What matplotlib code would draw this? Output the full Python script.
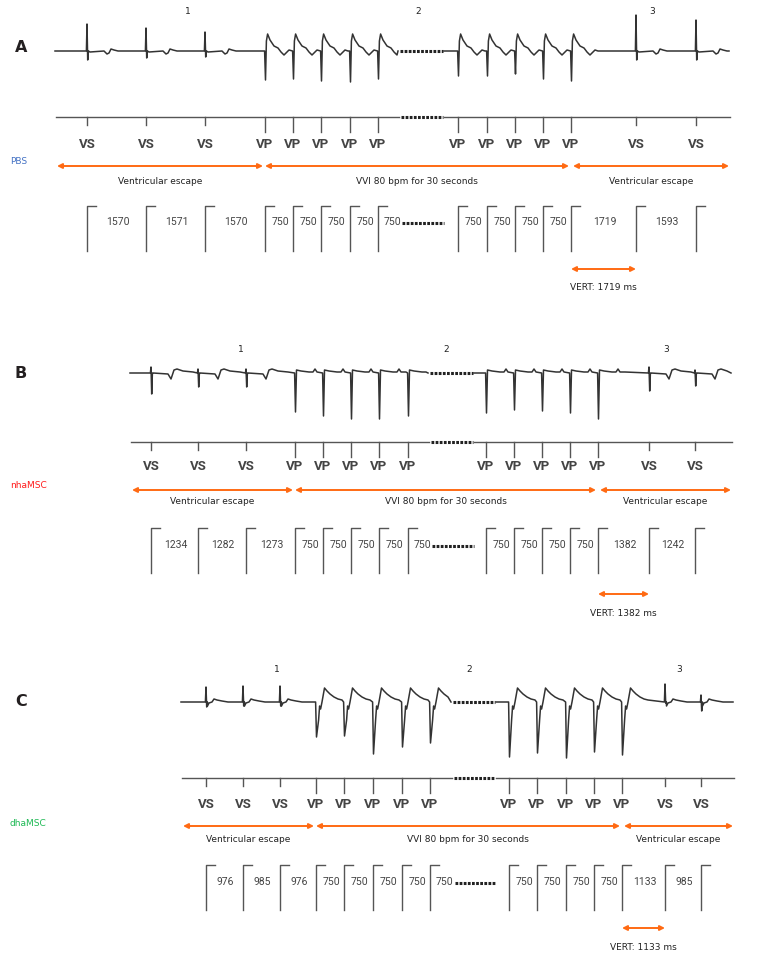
import matplotlib
matplotlib.use('Agg')
import matplotlib.pyplot as plt

# Beat positions along each strip (same scale as the reference strip), beat kinds,
# spike tips of the surface ECG and the marker-channel intervals (ms).
A_beats = [87, 146, 205, 265, 293, 321, 350, 378, 458, 487, 515, 543, 571, 636, 696]
A_kind = ['VS', 'VS', 'VS', 'VP', 'VP', 'VP', 'VP', 'VP', 'VP', 'VP', 'VP', 'VP', 'VP', 'VS', 'VS']
A_up = [24, 28, 32, None, None, None, None, None, None, None, None, None, None, 15, 20]
A_down = [60, 58, 57, 80, 79, 81, 82, 79, 76, 76, 74, 79, 81, 60, 60]
A_ms = [1570, 1571, 1570, 750, 750, 750, 750, 750, 750, 750, 750, 750, 1719, 1593]

B_beats = [151, 198, 246, 295, 323, 351, 379, 408, 486, 514, 542, 570, 598, 649, 695]
B_kind = A_kind
B_up = [367, 369, 369, None, None, None, None, None, None, None, None, None, None, 367, 370]
B_down = [394, 387, 387, 412, 416, 419, 419, 416, 413, 410, 411, 413, 419, 391, 386]
B_ms = [1234, 1282, 1273, 750, 750, 750, 750, 750, 750, 750, 750, 750, 1382, 1242]

C_beats = [206, 243, 280, 316, 344, 373, 402, 430, 509, 537, 566, 594, 622, 665, 701]
C_kind = A_kind
C_up = [687, 686, 686, None, None, None, None, None, None, None, None, None, None, 684, 695]
C_down = [707, 706, 706, 737, 736, 754, 747, 743, 757, 753, 758, 752, 755, 703, 711]
C_ms = [976, 985, 976, 750, 750, 750, 750, 750, 750, 750, 750, 750, 1133, 985]

groups = ['PBS', 'nhaMSC', 'dhaMSC']
phases = ['Ventricular escape', 'VVI 80 bpm for 30 seconds', 'Ventricular escape']

# wave shapes after each spike (dx, dy from baseline, + is downward on the page)
A_vs_wave = [(3, 1), (17, 0), (20, 3), (22, 2), (24, -2), (27, -1), (31, 0)]
A_vp_wave = [(1.4, -10), (2.6, -17), (5, -11), (9, -5), (13, -3), (16, 1), (19, 4), (21, 2), (24, -1), (27, 0)]
B_vs_wave = [(2, 0), (17, 1), (20, 6), (23, -3), (26, -4), (32, -2), (42, -1)]
B_vp_wave = [(1.5, -3), (6, -2), (14, -1), (18, -1), (20, -4), (22, -1), (27, -1)]
C_vs_wave = [(1.5, 4), (3, 1), (6, 0), (8, -3), (11, -2), (16, -1), (22, 0)]
C_vp_wave = [(2.6, 18), (3.6, 4), (4.6, 7), (6, 0), (8.5, -14), (11, -11), (14, -8), (18, -5), (22, -3), (26, -2)]

orange = '#ff6a13'
ink = '#333333'
grey = '#555555'
narrow = ['Liberation Sans Narrow', 'Roboto', 'DejaVu Sans']

panels = [
    dict(letter='A', beats=A_beats, kind=A_kind, up=A_up, down=A_down, ms=A_ms,
         vs_wave=A_vs_wave, vp_wave=A_vp_wave, gcol='#4472c4',
         letter_y=48, num_y=12, base=51, x0=55, x1=729, gap=(400, 443),
         mk_y=117, lab_y=145, grp_y=162, arr_y=166, txt_y=181,
         br_top=206, br_bot=251, ms_y=222, vert_y=269, vert_txt=288),
    dict(letter='B', beats=B_beats, kind=B_kind, up=B_up, down=B_down, ms=B_ms,
         vs_wave=B_vs_wave, vp_wave=B_vp_wave, gcol='#ff1a1a',
         letter_y=374, num_y=350, base=373, x0=130, x1=731, gap=(430, 473),
         mk_y=442, lab_y=467, grp_y=486, arr_y=490, txt_y=502,
         br_top=528, br_bot=573, ms_y=545, vert_y=594, vert_txt=614),
    dict(letter='C', beats=C_beats, kind=C_kind, up=C_up, down=C_down, ms=C_ms,
         vs_wave=C_vs_wave, vp_wave=C_vp_wave, gcol='#1db954',
         letter_y=702, num_y=670, base=702, x0=181, x1=733, gap=(453, 495),
         mk_y=778, lab_y=805, grp_y=823, arr_y=826, txt_y=840,
         br_top=865, br_bot=910, ms_y=882, vert_y=928, vert_txt=947),
]

fig = plt.figure(figsize=(7.65, 9.59), dpi=100)
ax = fig.add_axes([0, 0, 1, 1])
ax.set_xlim(0, 765)
ax.set_ylim(959, 0)
ax.axis('off')


def dots(x0, x1, y):
    ax.plot([x0, x1], [y, y], color='#222222', lw=2.2, linestyle=(0, (0.9, 0.45)),
            dash_capstyle='butt')


def arrow(x0, x1, y):
    ax.annotate('', xy=(x1, y), xytext=(x0, y),
                arrowprops=dict(arrowstyle='<|-|>', color=orange, lw=1.4,
                                mutation_scale=7, shrinkA=0, shrinkB=0))


def ecg(p, idx, xa, xb):
    base = p['base']
    pts = [(xa, base)]
    for j, i in enumerate(idx):
        x = p['beats'][i]
        nxt = p['beats'][idx[j + 1]] - 1.5 if j + 1 < len(idx) else xb
        if p['kind'][i] == 'VS':
            pts += [(x - 0.6, base), (x, p['up'][i]), (x + 0.7, p['down'][i]), (x + 1.4, base)]
            wave = p['vs_wave']
        else:
            pts += [(x - 0.4, base), (x + 0.5, p['down'][i])]
            wave = p['vp_wave']
        pts += [(x + dx, base + dy) for dx, dy in wave if x + dx < nxt]
    pts.append((xb, base))
    ax.plot([q[0] for q in pts], [q[1] for q in pts], color=ink, lw=1.1)


for n, p in enumerate(panels):
    b = p['beats']
    n1 = 8  # beats before the break
    seg1 = list(range(n1))
    seg2 = list(range(n1, len(b)))
    g0, g1 = p['gap']

    ax.text(15, p['letter_y'], p['letter'], fontsize=11.5, fontweight='bold',
            color='#231f20', ha='left', va='center')
    first_vp = p['kind'].index('VP')
    last_vp = len(p['kind']) - 1 - p['kind'][::-1].index('VP')
    for k, xt in enumerate([(p['x0'] + b[first_vp]) / 2 + 28, (b[first_vp] + b[last_vp]) / 2,
                            (b[last_vp] + p['x1']) / 2 + 2]):
        ax.text(xt, p['num_y'], str(k + 1), fontsize=6.5, ha='center', va='center', color='#222')

    # surface ECG
    ecg(p, seg1, p['x0'], g0 - 2)
    ecg(p, seg2, g1 + 1, p['x1'])
    dots(g0, g1, p['base'])

    # marker channel
    ax.plot([p['x0'] + 1, g0 - 1], [p['mk_y']] * 2, color=grey, lw=1.0)
    ax.plot([g1 + 1, p['x1'] + 1], [p['mk_y']] * 2, color=grey, lw=1.0)
    dots(g0 + 1, g1, p['mk_y'])
    for x, k in zip(b, p['kind']):
        ln = 8 if k == 'VS' else 15
        ax.plot([x, x], [p['mk_y'], p['mk_y'] + ln], color=grey, lw=1.0)
        ax.text(x, p['lab_y'], k, fontsize=9.5, fontweight='bold', family=narrow,
                color='#444444', ha='center', va='center')

    ax.text(10, p['grp_y'], groups[n], fontsize=6.5, color=p['gcol'],
            ha='left', va='center')

    # phase arrows
    spans = [(p['x0'] + 2, b[first_vp] - 2), (b[first_vp], b[last_vp] - 2), (b[last_vp] + 2, p['x1'])]
    for (sa, sb), lab in zip(spans, phases):
        arrow(sa, sb, p['arr_y'])
        ax.text((sa + sb) / 2, p['txt_y'], lab, fontsize=6.5, color='#222', ha='center', va='center')

    # interval brackets
    for x in b:
        ax.plot([x + 9, x, x], [p['br_top'], p['br_top'], p['br_bot']], color=grey, lw=1.0)
    for j in range(n1):
        xm = (b[j] + b[j + 1]) / 2 if j < n1 - 1 else b[j] + 13
        ax.text(xm + 1, p['ms_y'], str(p['ms'][j]), fontsize=7.5, family=narrow,
                color='#444444', ha='center', va='center')
    dots(g0 + 2, g1 + 1, p['ms_y'] + 1)
    for j in range(n1, len(b) - 1):
        xm = (b[j] + b[j + 1]) / 2
        ax.text(xm + 1, p['ms_y'], str(p['ms'][j]), fontsize=7.5, family=narrow,
                color='#444444', ha='center', va='center')

    # escape time
    arrow(b[last_vp], b[last_vp + 1], p['vert_y'])
    ax.text((b[last_vp] + b[last_vp + 1]) / 2, p['vert_txt'], 'VERT: %d ms' % p['ms'][last_vp],
            fontsize=6.5, color='#222', ha='center', va='center')

fig.savefig('out.png', dpi=100)
